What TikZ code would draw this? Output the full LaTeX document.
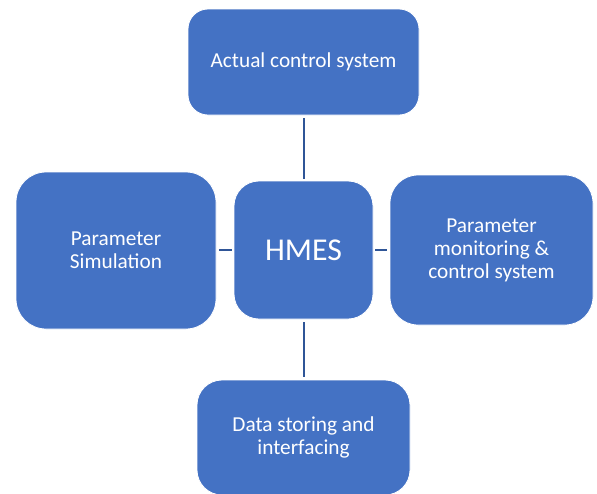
\documentclass[tikz,border=0pt]{standalone}
\usepackage{fontspec}
\setmainfont{Carlito}
\definecolor{boxfill}{HTML}{4472C4}
\definecolor{linkcol}{HTML}{2F5597}
\begin{document}
\begin{tikzpicture}[x=1pt,y=-1pt,
  blk/.style={draw=white, line width=0.8pt, fill=boxfill, text=white, align=center,
    font=\fontsize{21.3}{23}\selectfont, inner sep=0pt},
  link/.style={draw=linkcol, line width=2pt}]
\useasboundingbox (0,0) rectangle (597,493);
\node[blk, minimum width=231pt, minimum height=106pt, rounded corners=20pt] (top) at (303.5,62) {Actual control system};
\node[blk, minimum width=200pt, minimum height=157pt, rounded corners=30pt] (left) at (116,250.5) {Parameter\\Simulation};
\node[blk, minimum width=139pt, minimum height=138pt, rounded corners=25pt, font=\fontsize{31.8}{38}\selectfont] (hmes) at (303.5,250) {HMES};
\node[blk, minimum width=203pt, minimum height=150pt, rounded corners=28pt] (right) at (491.5,250) {Parameter\\monitoring \&\\control system};
\node[blk, minimum width=213pt, minimum height=115pt, rounded corners=25pt] (bottom) at (303.5,437.5) {Data storing and\\interfacing};
\draw[link, shorten <=3pt, shorten >=2pt] (top.south) -- (hmes.north);
\draw[link, shorten <=3pt, shorten >=3pt] (hmes.south) -- (bottom.north);
\draw[link, shorten <=3pt, shorten >=2pt] (left.east |- hmes.west) -- (hmes.west);
\draw[link, shorten <=2pt, shorten >=3pt] (hmes.east) -- (right.west |- hmes.east);
\end{tikzpicture}
\end{document}
